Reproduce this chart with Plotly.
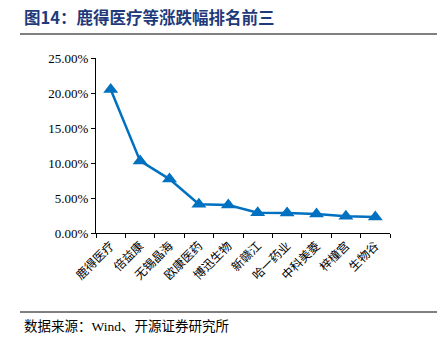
import plotly.graph_objects as go

categories = ["鹿得医疗", "倍益康", "无锡晶海", "欧康医药", "博迅生物", "新赣江", "哈一药业", "中科美菱", "梓橦宫", "生物谷"]
values = [20.5, 10.3, 7.7, 4.1, 4.0, 2.9, 2.85, 2.7, 2.4, 2.3]
y_ticks = [0, 5, 10, 15, 20, 25]
y_labels = ["0.00%", "5.00%", "10.00%", "15.00%", "20.00%", "25.00%"]

title_text = "图14：鹿得医疗等涨跌幅排名前三"
source_text = "数据来源：Wind、开源证券研究所"

W, H = 437, 351
L, R, T, B = 96, 47, 58, 118

fig = go.Figure()
fig.add_trace(go.Scatter(
    x=categories, y=values, mode="lines+markers",
    line=dict(color="#0070C0", width=2.5),
    marker=dict(symbol="triangle-up", size=13, color="#0070C0"),
    cliponaxis=False,
))

serif = "Liberation Serif, Noto Serif CJK SC, Noto Sans CJK SC, serif"
fig.update_layout(
    width=W, height=H,
    margin=dict(l=L, r=R, t=T, b=B),
    paper_bgcolor="white", plot_bgcolor="white",
    showlegend=False,
    font=dict(family=serif, size=12, color="black"),
    xaxis=dict(
        type="category", showline=True, linecolor="black", linewidth=1,
        ticks="outside", tickson="boundaries", ticklen=4, tickcolor="black",
        tickangle=-45, showgrid=False, range=[-0.5, 9.5],
        tickfont=dict(family="Noto Sans CJK SC, serif", size=12, color="black"),
    ),
    yaxis=dict(
        range=[0, 25], tickvals=y_ticks, ticktext=y_labels,
        showline=True, linecolor="black", linewidth=1,
        ticks="outside", ticklen=4, tickcolor="black",
        showgrid=False, zeroline=False,
        tickfont=dict(family=serif, size=13, color="black"),
    ),
)

ph = H - T - B
def py(y):
    return (H - B - y) / ph

fig.add_annotation(
    text="<b>" + title_text + "</b>", xref="paper", yref="paper",
    x=(22 - L) / (W - L - R), y=py(17), xanchor="left", yanchor="middle",
    showarrow=False, font=dict(family="Noto Sans CJK SC, serif", size=16.5, color="#1F3A7A"),
)
fig.add_shape(type="line", xref="paper", yref="paper",
              x0=(20 - L) / (W - L - R), x1=(W - L) / (W - L - R), y0=py(34), y1=py(34),
              line=dict(color="#808080", width=2))
fig.add_shape(type="line", xref="paper", yref="paper",
              x0=(20 - L) / (W - L - R), x1=(W - L) / (W - L - R), y0=py(312), y1=py(312),
              line=dict(color="black", width=1))
fig.add_annotation(
    text=source_text, xref="paper", yref="paper",
    x=(22 - L) / (W - L - R), y=py(326), xanchor="left", yanchor="middle",
    showarrow=False, font=dict(family="Liberation Serif, Noto Sans CJK SC, serif", size=13.5, color="black"),
)

fig.write_html("out.html")
